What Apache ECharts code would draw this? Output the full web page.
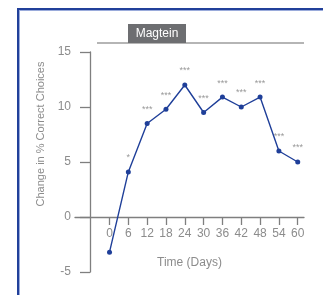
<!DOCTYPE html>
<html>
<head>
<meta charset="utf-8">
<script src="https://cdn.jsdelivr.net/npm/echarts@6/dist/echarts.min.js"></script>
<style>
  html, body { margin: 0; padding: 0; background: #fff; }
  #main { width: 323px; height: 295px; }
</style>
</head>
<body>
<div id="main"></div>
<script>
// values
var days = [0, 6, 12, 18, 24, 30, 36, 42, 48, 54, 60];
var change = [-3.2, 4.1, 8.5, 9.8, 12, 9.5, 10.9, 10.0, 10.9, 6.0, 5.0];
var stars = ['', '*', '***', '***', '***', '***', '***', '***', '***', '***', '***'];
var yTicks = [-5, 0, 5, 10, 15];

var chart = echarts.init(document.getElementById('main'), null, { renderer: 'canvas' });

var font = 'Helvetica, "Liberation Sans", Arial, sans-serif';
var grey = '#8c8c8c';

var points = days.map(function (d, i) { return [d, change[i]]; });

var option = {
  animation: false,
  textStyle: { fontFamily: font },
  grid: { left: 75, top: 52, width: 229, height: 220, outerBoundsMode: 'none', containLabel: false },
  xAxis: {
    type: 'value',
    min: -11,
    max: 62,
    position: 'bottom',
    offset: -55,
    axisLine: { onZero: false, lineStyle: { color: '#7f7f7f', width: 1.3 } },
    axisTick: { customValues: days, length: 8, lineStyle: { color: '#7f7f7f', width: 1.3 } },
    axisLabel: { customValues: days, color: grey, fontSize: 12, margin: 11 },
    splitLine: { show: false },
    name: 'Time (Days)',
    nameLocation: 'middle',
    nameGap: 40,
    nameTextStyle: { color: grey, fontSize: 12 }
  },
  yAxis: {
    type: 'value',
    min: -5,
    max: 15,
    interval: 5,
    offset: -15,
    axisLine: { show: true, onZero: false, lineStyle: { color: '#7f7f7f', width: 1.3 } },
    axisTick: { show: true, length: 10, lineStyle: { color: '#7f7f7f', width: 1.3 } },
    axisLabel: { color: grey, fontSize: 12, margin: 19, customValues: yTicks },
    splitLine: { show: false }
  },
  graphic: [
    { type: 'rect', shape: { x: 17, y: 8, width: 320, height: 2 }, style: { fill: '#21409a' } },
    { type: 'rect', shape: { x: 17, y: 8, width: 2, height: 300 }, style: { fill: '#21409a' } },
    { type: 'rect', shape: { x: 19, y: 10, width: 320, height: 1 }, style: { fill: '#9aabdb' } },
    { type: 'rect', shape: { x: 19, y: 10, width: 1, height: 300 }, style: { fill: '#9aabdb' } },
    { type: 'rect', shape: { x: 97, y: 42, width: 207, height: 2 }, style: { fill: '#b5b5b5' } },
    { type: 'rect', shape: { x: 128, y: 24, width: 58, height: 19 }, style: { fill: '#6d6e71' } },
    { type: 'text', x: 157, y: 33.5, style: { text: 'Magtein', fill: '#fff', font: '12px ' + font, align: 'center', verticalAlign: 'middle' } },
    { type: 'text', x: 41, y: 134, rotation: Math.PI / 2,
      style: { text: 'Change in % Correct Choices', fill: grey, font: '11px ' + font, align: 'center', verticalAlign: 'middle' } }
  ],
  series: [{
    type: 'line',
    data: points,
    symbol: 'circle',
    symbolSize: 5,
    lineStyle: { color: '#1f3f99', width: 1.4 },
    itemStyle: { color: '#1f3f99' },
    label: {
      show: true,
      position: 'top',
      distance: 7,
      color: '#999',
      fontSize: 9,
      formatter: function (p) { return stars[p.dataIndex]; }
    }
  }]
};

chart.setOption(option);
</script>
</body>
</html>
